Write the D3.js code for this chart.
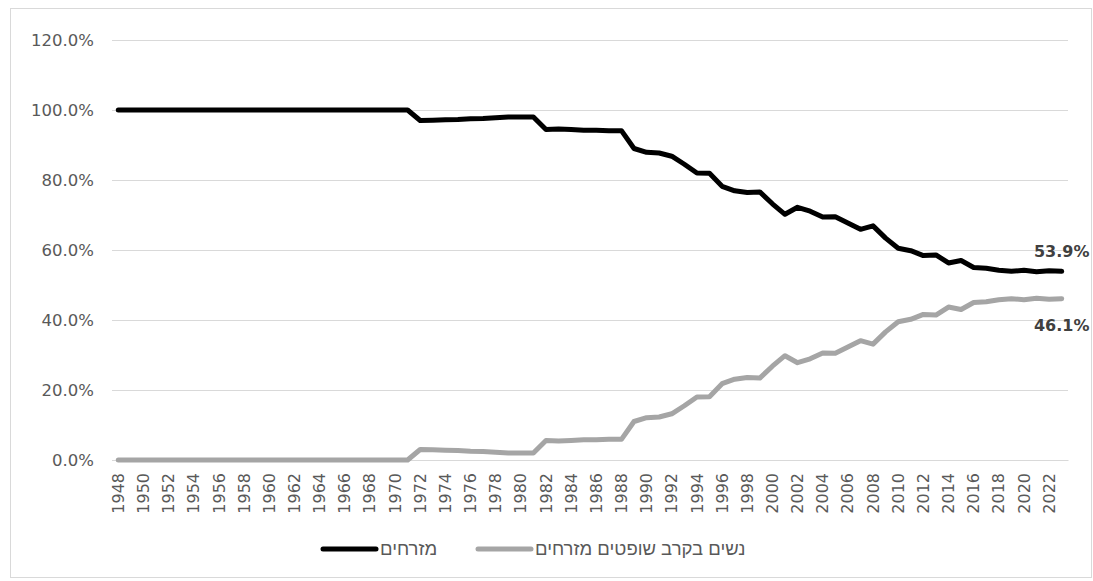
<!DOCTYPE html>
<html>
<head>
<meta charset="utf-8">
<script src="https://cdnjs.cloudflare.com/ajax/libs/d3/7.8.5/d3.min.js"></script>
<style>
  body { margin: 0; background: #fff; }
  text { font-family: 'DejaVu Sans', sans-serif; }
</style>
</head>
<body>
<div id="chart"></div>
<script>
var years = d3.range(1948, 2024);

// share of mizrahim among judges (%)
var mizrahim = [
  100, 100, 100, 100, 100, 100, 100, 100, 100, 100, 100, 100,
  100, 100, 100, 100, 100, 100, 100, 100, 100, 100, 100, 100,
  97.0, 97.1, 97.2, 97.3, 97.5, 97.6, 97.8, 98.0, 98.0, 98.0,
  94.4, 94.6, 94.4, 94.2, 94.2, 94.1, 94.1,
  89.0, 87.9, 87.7, 86.8, 84.5, 82.0, 81.9, 78.2, 76.9, 76.4, 76.6,
  73.2, 70.2, 72.2, 71.1, 69.4, 69.5, 67.7, 65.9, 66.9, 63.4,
  60.5, 59.8, 58.4, 58.6, 56.3, 57.0, 55.0, 54.8, 54.2, 53.9,
  54.2, 53.8, 54.1, 53.9
];

var women = [
  0, 0, 0, 0, 0, 0, 0, 0, 0, 0, 0, 0,
  0, 0, 0, 0, 0, 0, 0, 0, 0, 0, 0, 0,
  3.0, 2.9, 2.8, 2.7, 2.5, 2.4, 2.2, 2.0, 2.0, 2.0,
  5.6, 5.4, 5.6, 5.8, 5.8, 5.9, 5.9,
  11.0, 12.1, 12.3, 13.2, 15.5, 18.0, 18.1, 21.8, 23.1, 23.6, 23.4,
  26.8, 29.8, 27.8, 28.9, 30.6, 30.5, 32.3, 34.1, 33.1, 36.6,
  39.5, 40.2, 41.6, 41.4, 43.7, 43.0, 45.0, 45.2, 45.8, 46.1,
  45.8, 46.2, 45.9, 46.1
];

var yTicks = [0, 20, 40, 60, 80, 100, 120];
var seriesNames = ['מזרחים', 'נשים בקרב שופטים מזרחים'];
var seriesColors = ['#000000', '#a5a5a5'];

var fullWidth = 1093;
var fullHeight = 581;
var margin = {top: 40, right: 25, bottom: 121, left: 112};
var width = fullWidth - margin.left - margin.right;
var height = fullHeight - margin.top - margin.bottom;

var svg = d3.select('#chart').append('svg')
  .attr('width', fullWidth)
  .attr('height', fullHeight);

// outer chart border
svg.append('rect')
  .attr('x', 10.5)
  .attr('y', 8.5)
  .attr('width', fullWidth - 12)
  .attr('height', fullHeight - 12)
  .attr('fill', 'none')
  .attr('stroke', '#d9d9d9');

var g = svg.append('g')
  .attr('transform', 'translate(' + margin.left + ',' + margin.top + ')');

var xScale = d3.scaleBand()
  .domain(years)
  .range([0, width]);

var yScale = d3.scaleLinear()
  .domain([0, 120])
  .range([height, 0]);

var cx = function(yr) { return xScale(yr) + xScale.bandwidth() / 2; };

// y axis with gridlines
var yAxis = d3.axisLeft(yScale)
  .tickValues(yTicks)
  .tickSize(-width)
  .tickPadding(18)
  .tickFormat(function(d) { return d.toFixed(1) + '%'; });

g.append('g')
  .classed('y axis', true)
  .call(yAxis)
  .call(function(s) {
    s.select('.domain').remove();
    s.selectAll('line').attr('stroke', '#d9d9d9');
    s.selectAll('text')
      .attr('fill', '#595959')
      .style('font-size', '16.5px');
  });

// x axis, every second year
var xAxis = d3.axisBottom(xScale)
  .tickValues(years.filter(function(y) { return y % 2 === 0; }))
  .tickSize(0)
  .tickSizeOuter(0);

g.append('g')
  .classed('x axis', true)
  .attr('transform', 'translate(0,' + height + ')')
  .call(xAxis)
  .call(function(s) {
    s.select('.domain').attr('stroke', '#d9d9d9');
    s.selectAll('text')
      .attr('fill', '#595959')
      .style('font-size', '16px')
      .attr('text-anchor', 'end')
      .attr('transform', 'rotate(-90)')
      .attr('x', -13)
      .attr('y', 0)
      .attr('dy', '0.35em');
  });

var line = d3.line()
  .x(function(d) { return cx(d.year); })
  .y(function(d) { return yScale(d.value); });

var series = [mizrahim, women].map(function(vals, i) {
  return {
    name: seriesNames[i],
    color: seriesColors[i],
    values: years.map(function(y, j) { return {year: y, value: vals[j]}; })
  };
});

// draw gray first so the black line sits on top
g.selectAll('path.series')
    .data(series.slice().reverse())
  .enter().append('path')
    .classed('series', true)
    .attr('d', function(d) { return line(d.values); })
    .attr('fill', 'none')
    .attr('stroke', function(d) { return d.color; })
    .attr('stroke-width', 5)
    .attr('stroke-linejoin', 'round')
    .attr('stroke-linecap', 'round');

// end labels
var lastYear = years[years.length - 1];
g.selectAll('text.end-label')
    .data(series)
  .enter().append('text')
    .classed('end-label', true)
    .attr('x', cx(lastYear))
    .attr('y', function(d, i) {
      var v = d.values[d.values.length - 1].value;
      return i === 0 ? yScale(v) - 14 : yScale(v) + 32;
    })
    .attr('text-anchor', 'middle')
    .attr('fill', '#404040')
    .style('font-size', '16px')
    .style('font-weight', 'bold')
    .text(function(d) { return d.values[d.values.length - 1].value.toFixed(1) + '%'; });

// legend
var legendX = [323, 478];
var legend = svg.append('g').classed('legend', true);
legend.selectAll('line')
    .data(series)
  .enter().append('line')
    .attr('x1', function(d, i) { return legendX[i]; })
    .attr('x2', function(d, i) { return legendX[i] + 53; })
    .attr('y1', 549)
    .attr('y2', 549)
    .attr('stroke', function(d) { return d.color; })
    .attr('stroke-width', 5)
    .attr('stroke-linecap', 'round');

legend.selectAll('text')
    .data(series)
  .enter().append('text')
    .attr('x', function(d, i) { return legendX[i] + 57; })
    .attr('y', 549)
    .attr('dy', '0.35em')
    .attr('fill', '#595959')
    .style('font-family', "'Liberation Sans', 'DejaVu Sans', sans-serif")
    .style('font-size', '18.5px')
    .text(function(d) { return d.name; });
</script>
</body>
</html>
